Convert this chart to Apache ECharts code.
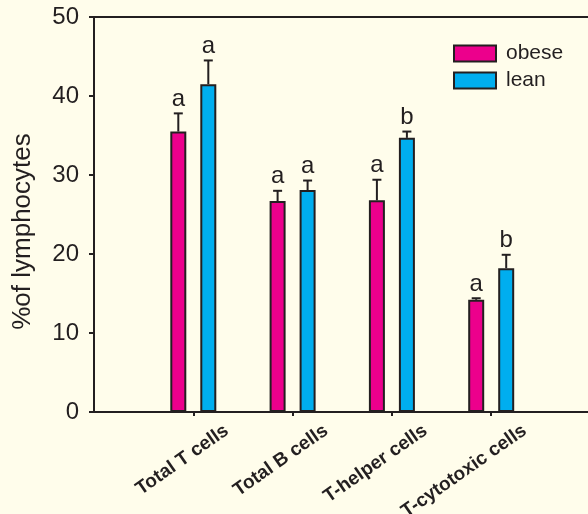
<!DOCTYPE html>
<html>
<head>
<meta charset="utf-8">
<script src="https://cdn.jsdelivr.net/npm/echarts@6/dist/echarts.min.js"></script>
<style>
  html, body { margin: 0; padding: 0; background: #fffdeb; }
  #chart { width: 588px; height: 514px; }
</style>
</head>
<body>
<div id="chart"></div>
<script>
// Lymphocyte subsets (% of lymphocytes), mean with upper SEM, obese vs lean
const categories = ['', 'Total T cells', 'Total B cells', 'T-helper cells', 'T-cytotoxic cells', ''];
const obeseMean = [null, 35.5, 26.7, 26.8, 14.2, null];
const obeseTop  = [null, 37.8, 28.0, 29.4, 14.4, null];
const leanMean  = [null, 41.5, 28.1, 34.7, 18.2, null];
const leanTop   = [null, 44.5, 29.3, 35.5, 19.9, null];
const obeseLetters = ['', 'a', 'a', 'a', 'a', ''];
const leanLetters  = ['', 'a', 'a', 'b', 'b', ''];
const yTicks = { min: 0, max: 50, interval: 10 };

const INK = '#231f20';
const FONT = "'Liberation Sans', Arial, Helvetica, sans-serif";
const BAR_W = 16;
const HALF_PITCH = 15; // bar centre offset from the category tick

function errorRows(mean, top) {
  const rows = [];
  mean.forEach((m, i) => { if (m != null) rows.push([i, m, top[i]]); });
  return rows;
}

function errorRenderer(offset, letters) {
  return function (params, api) {
    const idx = api.value(0);
    const base = api.coord([idx, api.value(1)]);
    const tip = api.coord([idx, api.value(2)]);
    const x = base[0] + offset;
    const line = { stroke: INK, lineWidth: 2 };
    return {
      type: 'group',
      children: [
        { type: 'line', shape: { x1: x, y1: base[1], x2: x, y2: tip[1] }, style: line },
        { type: 'line', shape: { x1: x - 4.5, y1: tip[1], x2: x + 4.5, y2: tip[1] }, style: line },
        { type: 'text', style: {
            text: letters[idx], x: x, y: tip[1] - 2,
            textAlign: 'center', textVerticalAlign: 'bottom',
            fontSize: 24, fontFamily: FONT, fill: INK } }
      ]
    };
  };
}

const chart = echarts.init(document.getElementById('chart'), null, { renderer: 'canvas' });

chart.setOption({
  backgroundColor: '#fffdeb',
  animation: false,
  textStyle: { fontFamily: FONT, color: INK },
  legend: {
    data: ['obese', 'lean'],
    orient: 'vertical',
    left: 453, top: 43, padding: 0,
    itemWidth: 42, itemHeight: 16, itemGap: 6,
    icon: 'rect',
    textStyle: { fontSize: 21, color: INK, fontFamily: FONT, padding: [0, 0, 0, 5] }
  },
  grid: [
    { left: 94, right: -2.5, top: 17, bottom: 102, show: true, outerBoundsMode: 'none',
      borderColor: INK, borderWidth: 2, backgroundColor: 'transparent' },
    // label-only grid, shifted right so rotated names end past their ticks
    { left: 122, right: -30.5, top: 17, bottom: 102, show: false, outerBoundsMode: 'none' }
  ],
  xAxis: [
    {
      gridIndex: 0, type: 'category', data: categories, boundaryGap: false,
      axisLine: { show: true, lineStyle: { color: INK, width: 2 } },
      axisTick: { show: true, length: 4, lineStyle: { color: INK, width: 2 },
                  interval: (i) => i > 0 && i < categories.length - 1 },
      axisLabel: { show: false },
      splitLine: { show: false }
    },
    {
      gridIndex: 1, type: 'category', data: categories, boundaryGap: false,
      axisLine: { show: false }, axisTick: { show: false }, splitLine: { show: false },
      axisLabel: {
        show: true, interval: 0, rotate: 35, align: 'right', verticalAlign: 'top',
        margin: 9, fontSize: 19, fontWeight: 'bold', color: INK, fontFamily: FONT,
        hideOverlap: false
      }
    }
  ],
  yAxis: [
    {
      gridIndex: 0, type: 'value', min: yTicks.min, max: yTicks.max, interval: yTicks.interval,
      name: '%of lymphocytes', nameLocation: 'middle', nameGap: 58,
      nameTextStyle: { fontSize: 26, color: INK, fontFamily: FONT, padding: [0, 34, 0, 0] },
      axisLine: { show: true, lineStyle: { color: INK, width: 2 } },
      axisTick: { show: true, length: 5, lineStyle: { color: INK, width: 2 } },
      axisLabel: { fontSize: 24, color: INK, margin: 15, fontFamily: FONT },
      splitLine: { show: false }
    },
    { gridIndex: 1, type: 'value', min: 0, max: 50, show: false }
  ],
  series: [
    {
      name: 'obese', type: 'bar', data: obeseMean, barWidth: BAR_W, barGap: '87.5%',
      itemStyle: { color: '#ec008c', borderColor: INK, borderWidth: 2 }, z: 2
    },
    {
      name: 'lean', type: 'bar', data: leanMean, barWidth: BAR_W, barGap: '87.5%',
      itemStyle: { color: '#00aeef', borderColor: INK, borderWidth: 2 }, z: 2
    },
    {
      name: 'obese SEM', type: 'custom', data: errorRows(obeseMean, obeseTop),
      renderItem: errorRenderer(-HALF_PITCH, obeseLetters), z: 3, silent: true
    },
    {
      name: 'lean SEM', type: 'custom', data: errorRows(leanMean, leanTop),
      renderItem: errorRenderer(HALF_PITCH, leanLetters), z: 3, silent: true
    }
  ]
});
</script>
</body>
</html>
